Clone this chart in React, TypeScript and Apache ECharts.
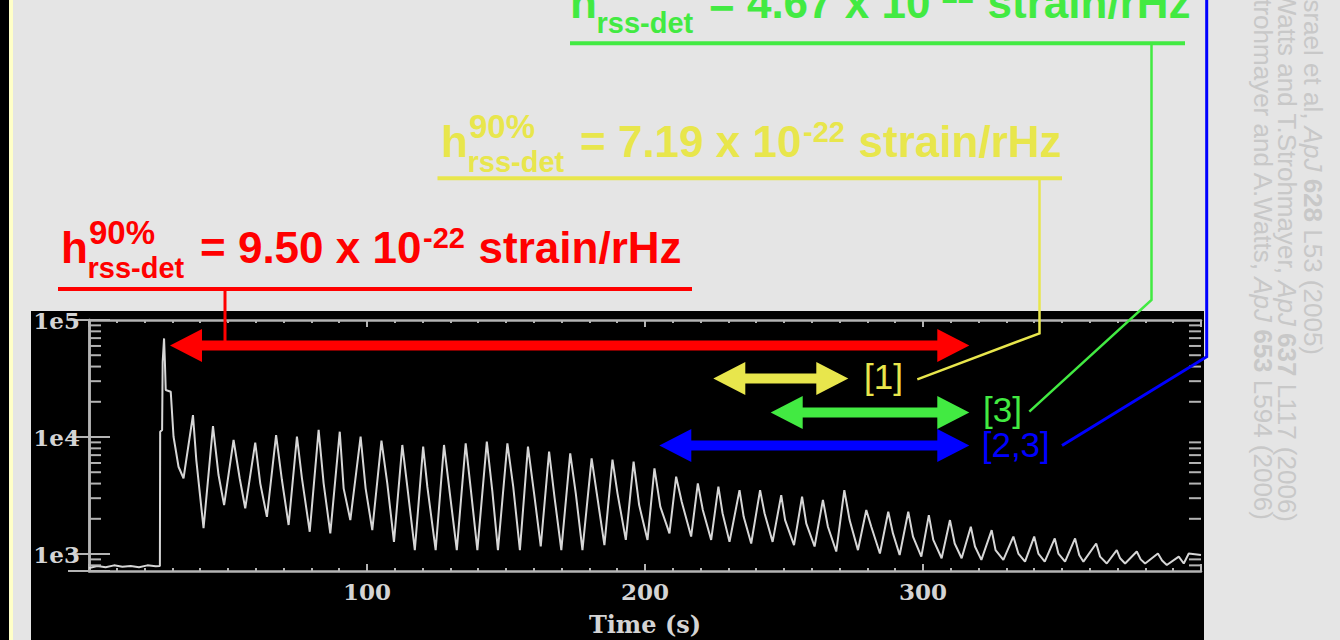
import React, { useEffect, useRef } from 'react';
import * as echarts from 'echarts';

// ---------- data ----------
// light curve of the giant flare: [time (s), counts]
const preFlareCurve: [number, number][] = [
  [0, 760], [3, 790], [6, 770], [9, 800], [12, 780], [15, 790], [18, 770], [21, 800], [24, 785], [25.5, 790],
];
const flareSpikeCurve: [number, number][] = [
  [25.6, 11100], [26.3, 11500], [26.5, 44000], [27.0, 69600], [27.3, 44000], [27.6, 25200], [29.4, 24400],
  [30.4, 10100], [32.2, 5570], [34.0, 4440], [37.4, 15400], [38.6, 6350], [41.2, 1660],
];
const pulseCurve: [number, number][] = [
  [44.6, 12400], [46.6, 4730], [48.6, 2620],
  [52.0, 9430], [54.2, 4440], [56.2, 2460],
  [59.8, 8950], [61.6, 4020], [64.0, 2080],
  [67.3, 10400], [69.4, 4290], [71.8, 1770],
  [74.8, 10100], [76.6, 4440], [79.4, 1550],
  [82.6, 11500], [84.4, 4020], [86.8, 1500],
  [90.2, 11100], [91.6, 3640], [94.0, 1950],
  [97.7, 10100], [99.5, 3640], [101.9, 1600],
  [105.2, 9300], [107.3, 4020], [109.7, 1270],
  [112.7, 8550], [114.5, 3760], [117.2, 1080],
  [120.2, 8270], [121.7, 3760], [124.7, 1080],
  [127.7, 8550], [129.8, 3300], [132.3, 1080],
  [135.5, 8830], [137.3, 3640], [139.7, 1080],
  [143.1, 9120], [145.1, 3410], [147.1, 1080],
  [150.5, 8830], [152.6, 3760], [155.0, 1080],
  [157.9, 8270], [160.1, 3300], [162.5, 1160],
  [165.5, 7500], [167.5, 2990], [169.9, 1080],
  [173.1, 7250], [175.1, 3300], [177.5, 1080],
  [180.8, 6570], [183.0, 2900], [185.4, 1190],
  [188.3, 6400], [190.1, 3300], [193.1, 1320],
  [195.9, 6150], [197.9, 2620], [200.9, 1320],
  [203.4, 5400], [205.5, 2540], [208.8, 1500],
  [211.2, 4580], [213.2, 2800], [216.6, 1410],
  [219.0, 4020], [220.8, 2380], [223.8, 1320],
  [226.4, 3760], [227.9, 2230], [230.4, 1270],
  [234.0, 3520], [235.5, 2080], [238.2, 1230],
  [241.4, 3520], [243.0, 2230], [245.9, 1270],
  [249.0, 3190], [250.4, 1950], [253.6, 1190],
  [256.5, 3090], [258.0, 1830], [261.0, 1160],
  [264.0, 2900], [265.8, 1710], [268.8, 1050],
  [271.7, 3520], [273.6, 1950], [276.6, 1080],
  [279.6, 2380], [281.4, 1710], [284.5, 1010],
  [287.5, 2300], [289.2, 1500], [291.6, 980],
  [294.7, 2300], [296.4, 1410], [299.4, 950],
  [302.1, 2150], [303.7, 1320], [306.7, 920],
  [309.7, 1950], [311.4, 1230], [313.9, 920],
  [317.2, 1710], [318.7, 1160], [321.0, 890],
  [324.7, 1600], [326.1, 1080], [328.9, 890],
  [332.5, 1410], [334.3, 1010], [336.7, 860],
  [340.0, 1410], [341.5, 1010], [343.8, 860],
  [347.4, 1360], [348.7, 1010], [351.1, 860],
  [354.7, 1360], [356.2, 980], [357.7, 860],
  [362.3, 1230], [363.7, 950], [366.1, 830],
  [369.7, 1080], [370.9, 920], [372.7, 830],
  [376.9, 1050], [378.3, 900], [379.9, 830],
  [384.5, 1010], [386.0, 880], [387.7, 805],
  [392.0, 950], [393.8, 830], [395.6, 1010], [400, 980],
];

const xMin = 0;
const xMax = 400;
const xInterval = 100;
const xTickLabels = [100, 200, 300];
const yMin = 716;
const yMax = 100000;
const yMajorTicks = [1e3, 1e4, 1e5];
const yMinorTicks = [
  800, 900, 2000, 3000, 4000, 5000, 6000, 7000, 8000, 9000,
  20000, 30000, 40000, 50000, 60000, 70000, 80000, 90000,
];
const xAxisName = 'Time (s)';

// upper-limit annotations
const limitValues = ['9.50', '7.19', '4.67'];
const limitExponent = '-22';
const limitUnit = 'strain/rHz';
const refLabels = ['[1]', '[3]', '[2,3]'];
const citations = [
  'Israel et al, {i|ApJ} {b|628} L53 (2005)',
  'A.Watts and T.Strohmayer, {i|ApJ} {b|637} L117 (2006)',
  'T.Strohmayer and A.Watts, {i|ApJ} {b|653} L594 (2006)',
];

// ---------- styles ----------
const RED = '#ff0000';
const YELLOW = '#e8e64c';
const GREEN = '#42ea42';
const BLUE = '#0000ff';
const AXIS_GRAY = '#b4b4b4';
const LABEL_GRAY = '#d4d4d4';
const SANS = '"Liberation Sans", Arial, Helvetica, sans-serif';
const SERIF = '"DejaVu Serif", serif';

function txt(x: number, baseline: number, text: string, size: number, color: string, weight = 'bold') {
  return {
    type: 'text',
    x,
    y: baseline - 0.35 * size,
    z: 100,
    style: {
      text,
      fill: color,
      fontSize: size,
      fontWeight: weight,
      fontFamily: SANS,
      align: 'left',
      verticalAlign: 'middle',
    },
  };
}

function limitLabel(x0: number, b: number, color: string, value: string) {
  return [
    txt(x0, b, 'h', 44, color),
    txt(x0 + 28, b - 19, '90%', 33, color),
    txt(x0 + 26.5, b + 15, 'rss-det', 29, color),
    txt(x0 + 139, b, '= ' + value + ' x 10', 44, color),
    txt(x0 + 362, b - 15, limitExponent, 29, color),
    txt(x0 + 417.6, b, limitUnit, 44, color),
  ];
}

function arrow(L: number, R: number, y: number, color: string) {
  const h = 5, H = 16.5, A = 32;
  return {
    type: 'polygon',
    z: 100,
    shape: {
      points: [
        [L, y], [L + A, y - H], [L + A, y - h], [R - A, y - h], [R - A, y - H],
        [R, y], [R - A, y + H], [R - A, y + h], [L + A, y + h], [L + A, y + H],
      ],
    },
    style: { fill: color },
  };
}

function seg(points: number[][], color: string, width: number) {
  return {
    type: 'polyline',
    z: 100,
    shape: { points },
    style: { stroke: color, lineWidth: width, fill: null },
  };
}

function citation(x: number, yEnd: number, text: string) {
  const base = { fill: '#c8c8c8', fontSize: 26, fontFamily: SANS };
  return {
    type: 'text',
    x,
    y: yEnd,
    rotation: -Math.PI / 2,
    z: 50,
    style: {
      text,
      ...base,
      align: 'right',
      verticalAlign: 'middle',
      rich: {
        i: { ...base, fontStyle: 'italic' },
        b: { ...base, fontWeight: 'bold' },
      },
    },
  };
}

export default function App() {
  const ref = useRef<HTMLDivElement>(null);

  useEffect(() => {
    if (!ref.current) return;
    const chart = echarts.init(ref.current, undefined, { renderer: 'svg' });
    const curve = [...preFlareCurve, ...flareSpikeCurve, ...pulseCurve];

    const isDecade = (v: number) => yMajorTicks.some((t) => Math.abs(t - v) / t < 1e-6);

    const xAxisBase = {
      type: 'value',
      min: xMin,
      max: xMax,
      interval: xInterval,
      splitLine: { show: false },
      axisLine: { show: true, lineStyle: { color: AXIS_GRAY, width: 2.5 } },
      axisTick: { show: true, inside: true, length: 7, lineStyle: { color: AXIS_GRAY, width: 2 } },
      minorTick: { show: true, splitNumber: 10, length: 3, lineStyle: { color: AXIS_GRAY, width: 2 } },
      minorSplitLine: { show: false },
    };
    const yAxisBase = {
      type: 'log',
      logBase: 10,
      min: yMin,
      max: yMax,
      splitLine: { show: false },
      axisLine: { show: true, lineStyle: { color: AXIS_GRAY, width: 2.5 } },
      axisTick: { show: true, inside: true, length: 21, lineStyle: { color: AXIS_GRAY, width: 2 } },
    };

    const graphics: any[] = [
      { type: 'rect', z: -10, shape: { x: 0, y: 0, width: 9, height: 640 }, style: { fill: '#000000' } },
      { type: 'rect', z: -10, shape: { x: 9, y: 0, width: 4, height: 640 }, style: { fill: '#ffffc8' } },
      { type: 'rect', z: -10, shape: { x: 31, y: 311, width: 1173, height: 329 }, style: { fill: '#000000' } },
      // red
      ...limitLabel(61, 263, RED, limitValues[0]),
      seg([[58, 289], [692, 289]], RED, 4),
      seg([[225, 289], [225, 345]], RED, 3),
      arrow(170, 969.3, 345.5, RED),
      // yellow
      ...limitLabel(441, 157, YELLOW, limitValues[1]),
      seg([[437.5, 178.3], [1062, 178.3]], YELLOW, 4),
      seg([[1039.5, 178], [1039.5, 333.3], [917.3, 379.3]], YELLOW, 2.5),
      arrow(713.3, 848.3, 378.5, YELLOW),
      txt(864, 389, refLabels[0], 35, YELLOW, 'normal'),
      // green
      ...limitLabel(570, 18.3, GREEN, limitValues[2]),
      seg([[570, 43.3], [1185, 43.3]], GREEN, 4),
      seg([[1151.5, 43], [1151.5, 300], [1029.3, 411.7]], GREEN, 2.5),
      arrow(770.7, 969.3, 412.5, GREEN),
      txt(983, 422, refLabels[1], 35, GREEN, 'normal'),
      // blue
      seg([[1206.7, -5], [1206.7, 356.7], [1062, 445.5]], BLUE, 3),
      arrow(659.3, 969.3, 445.5, BLUE),
      txt(981.7, 456.5, refLabels[2], 35, BLUE, 'normal'),
      // citations
      citation(1313, 355, citations[0]),
      citation(1287, 522, citations[1]),
      citation(1263, 520, citations[2]),
    ];

    chart.setOption({
      animation: false,
      backgroundColor: '#e5e5e5',
      grid: { left: 89, top: 320, right: 139, bottom: 69, containLabel: false },
      xAxis: [
        {
          ...xAxisBase,
          position: 'bottom',
          axisLabel: {
            color: LABEL_GRAY,
            fontFamily: SERIF,
            fontWeight: 'bold',
            fontSize: 23,
            margin: 9,
            formatter: (v: number) => (xTickLabels.includes(v) ? String(v) : ''),
          },
          name: xAxisName,
          nameLocation: 'middle',
          nameGap: 41,
          nameTextStyle: { color: LABEL_GRAY, fontFamily: SERIF, fontWeight: 'bold', fontSize: 24 },
        },
        { ...xAxisBase, position: 'top', axisLabel: { show: false } },
      ],
      yAxis: [
        {
          ...yAxisBase,
          position: 'left',
          axisLabel: {
            color: LABEL_GRAY,
            fontFamily: SERIF,
            fontWeight: 'bold',
            fontSize: 23,
            margin: 9,
            padding: [6, 0, 0, 0],
            formatter: (v: number) => (isDecade(v) ? '1e' + Math.round(Math.log10(v)) : ''),
          },
        },
        { ...yAxisBase, position: 'right', axisLabel: { show: false } },
      ],
      graphic: { elements: graphics },
      series: [
        {
          type: 'line',
          data: curve,
          xAxisIndex: 0,
          yAxisIndex: 0,
          showSymbol: false,
          symbol: 'none',
          lineStyle: { color: '#d6d6d6', width: 2 },
          z: 2,
          silent: true,
        },
        {
          type: 'custom',
          coordinateSystem: 'cartesian2d',
          xAxisIndex: 0,
          yAxisIndex: 0,
          data: yMinorTicks.map((v) => [xMin, v]),
          encode: { x: 0, y: 1 },
          silent: true,
          clip: false,
          z: 3,
          renderItem: (_params: any, api: any) => {
            const v = api.value(1);
            const pl = api.coord([xMin, v]);
            const pr = api.coord([xMax, v]);
            const st = { stroke: AXIS_GRAY, lineWidth: 2 };
            return {
              type: 'group',
              children: [
                { type: 'line', shape: { x1: pl[0], y1: pl[1], x2: pl[0] + 12, y2: pl[1] }, style: st },
                { type: 'line', shape: { x1: pr[0] - 12, y1: pr[1], x2: pr[0], y2: pr[1] }, style: st },
              ],
            };
          },
        },
      ],
    });

    return () => chart.dispose();
  }, []);

  return <div ref={ref} style={{ position: 'fixed', left: 0, top: 0, width: 1340, height: 640 }} />;
}
